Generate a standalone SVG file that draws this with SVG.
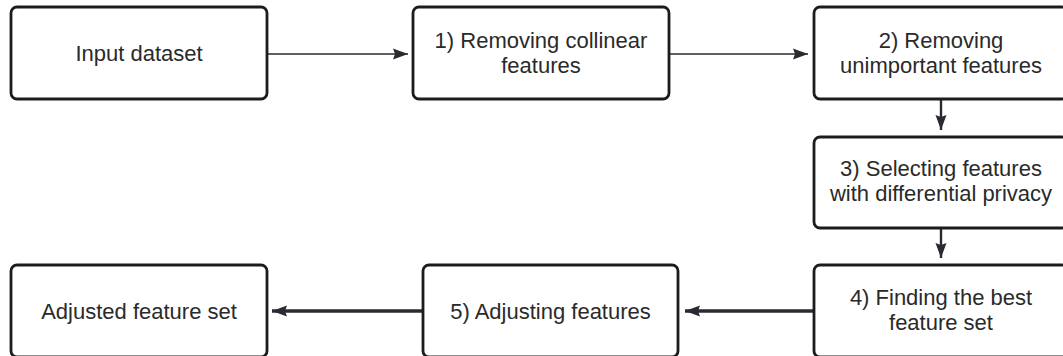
<svg xmlns="http://www.w3.org/2000/svg" width="1063" height="356" viewBox="0 0 1063 356">
  <style>
    .box { fill: #ffffff; stroke: #1c1c1e; stroke-width: 2.8; }
    .label { font-family: "Liberation Sans", Arial, sans-serif; font-size: 22px; fill: #2a2a2a; text-anchor: middle; }
    .edge { fill: none; stroke: #2a2a30; }
    .thin { stroke-width: 1.6; }
    .mid { stroke-width: 2.4; }
    .thick { stroke-width: 3.4; }
  </style>
  <defs>
    <marker id="arrow" markerUnits="userSpaceOnUse" viewBox="0 0 15 12" refX="15" refY="6" markerWidth="15" markerHeight="12" orient="auto">
      <path d="M0,0.5 L15,6 L0,11.5 L2,6 Z" fill="#2a2a30"/>
    </marker>
  </defs>

  <rect width="1063" height="356" fill="#ffffff"/>

  <!-- connectors -->
  <g id="connectors">
    <path class="edge thin" d="M267,54 H408" marker-end="url(#arrow)"/>
    <path class="edge thin" d="M669,54 H808" marker-end="url(#arrow)"/>
    <path class="edge mid" d="M941,99 V130" marker-end="url(#arrow)"/>
    <path class="edge mid" d="M941,228 V258" marker-end="url(#arrow)"/>
    <path class="edge thick" d="M814,311 H685" marker-end="url(#arrow)"/>
    <path class="edge thick" d="M423,311 H272" marker-end="url(#arrow)"/>
  </g>

  <g id="input-dataset">
    <rect class="box" x="11" y="7" width="256" height="92" rx="6"/>
    <text class="label" x="139" y="61">Input dataset</text>
  </g>

  <g id="step1-collinear">
    <rect class="box" x="413" y="7" width="256" height="92" rx="6"/>
    <text class="label" x="541" y="48">1) Removing collinear</text>
    <text class="label" x="541" y="73">features</text>
  </g>

  <g id="step2-unimportant">
    <rect class="box" x="814" y="7" width="254" height="92" rx="6"/>
    <text class="label" x="941" y="48">2) Removing</text>
    <text class="label" x="941" y="73">unimportant features</text>
  </g>

  <g id="step3-dp-selection">
    <rect class="box" x="814" y="137" width="254" height="91" rx="6"/>
    <text class="label" x="941" y="176">3) Selecting features</text>
    <text class="label" x="941" y="201">with differential privacy</text>
  </g>

  <g id="step4-best-set">
    <rect class="box" x="814" y="265" width="254" height="92" rx="6"/>
    <text class="label" x="941" y="305">4) Finding the best</text>
    <text class="label" x="941" y="330">feature set</text>
  </g>

  <g id="step5-adjusting">
    <rect class="box" x="423" y="265" width="255" height="92" rx="6"/>
    <text class="label" x="550.5" y="319">5) Adjusting features</text>
  </g>

  <g id="adjusted-feature-set">
    <rect class="box" x="11" y="265" width="256" height="92" rx="6"/>
    <text class="label" x="139" y="319">Adjusted feature set</text>
  </g>
</svg>
